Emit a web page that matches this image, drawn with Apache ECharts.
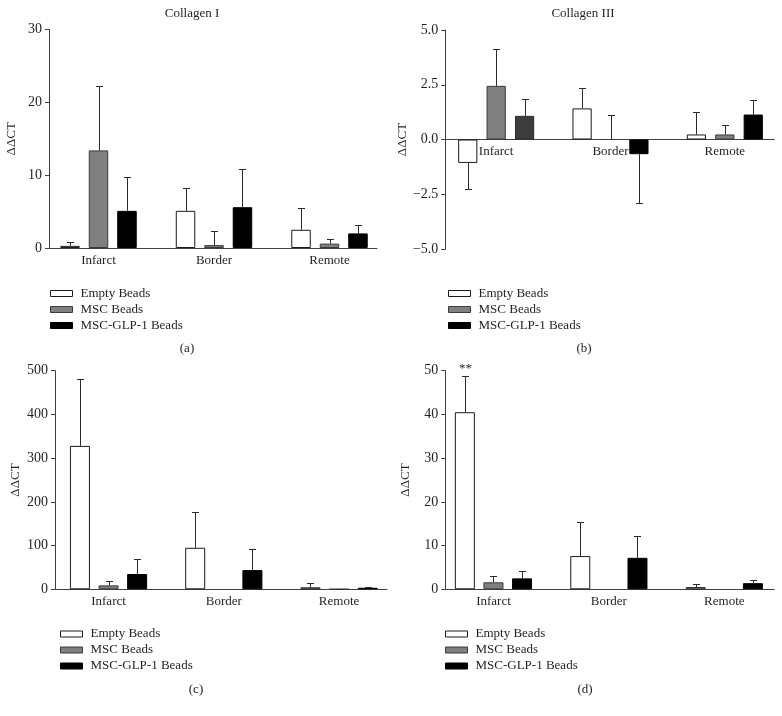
<!DOCTYPE html>
<html>
<head>
<meta charset="utf-8">
<script src="https://cdn.jsdelivr.net/npm/echarts@6/dist/echarts.min.js"></script>
<style>
html,body{margin:0;padding:0;background:#fff;}
#chart{width:782px;height:716px;}
</style>
</head>
<body>
<div id="chart"></div>
<script>
// ---------------- DATA ----------------
const categories = ['Infarct', 'Border', 'Remote'];
const seriesNames = ['Empty Beads', 'MSC Beads', 'MSC-GLP-1 Beads'];

// (a) Collagen I
const emptyA = [0.3, 5.1, 2.5];
const emptyAErr = [0.8, 8.2, 5.5];
const mscA = [13.4, 0.4, 0.6];
const mscAErr = [22.2, 2.3, 1.2];
const glpA = [5.1, 5.6, 2.0];
const glpAErr = [9.7, 10.8, 3.2];

// (b) Collagen III
const emptyB = [-1.07, 1.42, 0.23];
const emptyBErr = [-2.27, 2.36, 1.26];
const mscB = [2.45, 0, 0.23];
const mscBErr = [4.12, 1.12, 0.64];
const glpB = [1.08, -0.67, 1.14];
const glpBErr = [1.83, -2.89, 1.79];

// (c)
const emptyC = [328, 95, 4.6];
const emptyCErr = [482, 176, 15];
const mscC = [9, null, 0.5];
const mscCErr = [19, null, 1.5];
const glpC = [35, 44, 3.5];
const glpCErr = [70, 93, 5];

// (d)
const emptyD = [40.5, 7.6, 0.5];
const emptyDErr = [48.9, 15.5, 1.1];
const mscD = [1.6, null, null];
const mscDErr = [3.1, null, null];
const glpD = [2.5, 7.2, 1.4];
const glpDErr = [4.1, 12.3, 2.1];
const notesD = ['**', '', ''];

// y-axis tick settings
const yTicksA = {min: 0, max: 30, interval: 10};
const yTicksB = {min: -5, max: 5, interval: 2.5};
const yTicksC = {min: 0, max: 500, interval: 100};
const yTicksD = {min: 0, max: 50, interval: 10};

const titleA = 'Collagen I';
const titleB = 'Collagen III';
const yName = 'ΔΔCT';

// ---------------- STYLE / LAYOUT ----------------
const FONT = 'Liberation Serif';
const TXT = '#231f20';
const AXIS = '#404040';
const ERR = '#2a2a2a';
const seriesStyles = [
  {color: '#ffffff', borderColor: '#1a1a1a', borderWidth: 1},
  {color: '#808080', borderColor: '#3a3a3a', borderWidth: 1},
  {color: '#000000', borderColor: '#000000', borderWidth: 1}
];
const overrides = [{panel: 1, series: 2, index: 0, color: '#3d3d3d', borderColor: '#2a2a2a'}];

const panels = [
  {values: [emptyA, mscA, glpA], errs: [emptyAErr, mscAErr, glpAErr], notes: [null, null, null], ticks: yTicksA,
   fmt: v => String(v),
   frame: {left: 49, top: 29.5, width: 328, height: 218.5},
   bars: {left: 40.75, width: 346.5}, barWidth: 19.5, barGap: 0.46, nameGap: 31,
   legend: {left: 50, top: 287}, tag: {text: '(a)', x: 187, y: 349}},
  {values: [emptyB, mscB, glpB], errs: [emptyBErr, mscBErr, glpBErr], notes: [null, null, null], ticks: yTicksB,
   fmt: v => v.toFixed(1).replace('-', '\u2212'),
   frame: {left: 445.3, top: 30, width: 329, height: 219},
   bars: {left: 439, width: 343.8}, barWidth: 19.2, barGap: 0.48, nameGap: 33,
   legend: {left: 448, top: 287}, tag: {text: '(b)', x: 584, y: 349}},
  {values: [emptyC, mscC, glpC], errs: [emptyCErr, mscCErr, glpCErr], notes: [null, null, null], ticks: yTicksC,
   fmt: v => String(v),
   frame: {left: 55, top: 370.7, width: 332, height: 218.6},
   bars: {left: 50.9, width: 345.8}, barWidth: 20, barGap: 0.43, nameGap: 33,
   legend: {left: 60, top: 627.5}, tag: {text: '(c)', x: 196, y: 690}},
  {values: [emptyD, mscD, glpD], errs: [emptyDErr, mscDErr, glpDErr], notes: [notesD, null, null], ticks: yTicksD,
   fmt: v => String(v),
   frame: {left: 445.3, top: 370.7, width: 329, height: 218.6},
   bars: {left: 435.75, width: 347}, barWidth: 20, barGap: 0.43, nameGap: 33,
   legend: {left: 445, top: 627.5}, tag: {text: '(d)', x: 585, y: 690}}
];
const panelTitles = [
  {text: titleA, x: 192, y: 14},
  {text: titleB, x: 583, y: 14}
];

// ---------------- BUILD ----------------
const grid = [], xAxis = [], yAxis = [], series = [], legend = [], graphic = [];

panels.forEach((p, pi) => {
  const fi = pi * 2, bi = pi * 2 + 1;
  grid.push({left: p.frame.left, top: p.frame.top, width: p.frame.width, height: p.frame.height, containLabel: false});
  grid.push({left: p.bars.left, top: p.frame.top, width: p.bars.width, height: p.frame.height, containLabel: false});

  // frame axes (visible lines and y labels)
  xAxis.push({gridIndex: fi, type: 'category', data: [''], axisLine: {show: true, onZero: true, lineStyle: {color: AXIS, width: 1}},
    axisTick: {show: false}, axisLabel: {show: false}, splitLine: {show: false}});
  yAxis.push({gridIndex: fi, type: 'value', min: p.ticks.min, max: p.ticks.max, interval: p.ticks.interval,
    axisLine: {show: true, lineStyle: {color: AXIS, width: 1}},
    axisTick: {show: true, length: 4, inside: false, lineStyle: {color: AXIS}},
    axisLabel: {show: true, margin: 7, fontFamily: FONT, fontSize: 14, color: TXT, formatter: p.fmt},
    splitLine: {show: false},
    name: yName, nameLocation: 'middle', nameGap: p.nameGap, nameRotate: 90,
    nameTextStyle: {fontFamily: FONT, fontSize: 13, color: TXT}});

  // bar axes: category labels sit just under the zero line
  const zeroFrac = (0 - p.ticks.min) / (p.ticks.max - p.ticks.min);
  xAxis.push({gridIndex: bi, type: 'category', data: categories, boundaryGap: true, position: 'bottom',
    offset: -p.frame.height * zeroFrac,
    axisLine: {show: false, onZero: false}, axisTick: {show: false},
    axisLabel: {show: true, margin: 6, fontFamily: FONT, fontSize: 13, color: TXT, interval: 0},
    splitLine: {show: false}, z: 0});
  yAxis.push({gridIndex: bi, type: 'value', min: p.ticks.min, max: p.ticks.max, interval: p.ticks.interval,
    axisLine: {show: false}, axisTick: {show: false}, axisLabel: {show: false}, splitLine: {show: false}});

  const pitch = p.barWidth * (1 + p.barGap);
  p.values.forEach((vals, si) => {
    const data = vals.map((v, i) => {
      const ov = overrides.find(o => o.panel === pi && o.series === si && o.index === i);
      if (ov) return {value: v, itemStyle: {color: ov.color, borderColor: ov.borderColor}};
      return v;
    });
    series.push({type: 'bar', name: seriesNames[si], xAxisIndex: bi, yAxisIndex: bi, data: data,
      barWidth: p.barWidth, barGap: (p.barGap * 100) + '%', itemStyle: Object.assign({}, seriesStyles[si]),
      emphasis: {disabled: true}, z: 2});
    const offset = (si - 1) * pitch;
    const errs = p.errs[si];
    const notes = p.notes[si];
    series.push({type: 'custom', xAxisIndex: bi, yAxisIndex: bi, z: 3, silent: true,
      data: vals.map((v, i) => [i, v, errs[i]]),
      renderItem: function (params, api) {
        const v = api.value(1), e = api.value(2);
        if (isNaN(v) || isNaN(e)) return;
        const c = api.value(0);
        const p0 = api.coord([c, v]);
        const p1 = api.coord([c, e]);
        const cx = Math.round(p0[0] + offset) + 0.5;
        const y1 = Math.round(p1[1]) + 0.5;
        const children = [
          {type: 'line', shape: {x1: cx, y1: p0[1], x2: cx, y2: y1}, style: {stroke: ERR, lineWidth: 1}},
          {type: 'line', shape: {x1: cx - 3.5, y1: y1, x2: cx + 3.5, y2: y1}, style: {stroke: ERR, lineWidth: 1}}
        ];
        const note = notes ? notes[params.dataIndex] : '';
        if (note) {
          children.push({type: 'text', x: cx, y: y1 - 1, style: {text: note, fontFamily: FONT, fontSize: 13,
            fill: TXT, align: 'center', verticalAlign: 'bottom'}});
        }
        return {type: 'group', children: children};
      }});
  });

  legend.push({orient: 'vertical', left: p.legend.left, top: p.legend.top, padding: 0,
    itemWidth: 22, itemHeight: 6, itemGap: 3, icon: 'rect', selectedMode: false,
    textStyle: {fontFamily: FONT, fontSize: 13, color: TXT, padding: [0, 0, 0, 3]},
    data: seriesNames.map((n, si) => ({name: n, itemStyle: Object.assign({}, seriesStyles[si])}))});

  graphic.push({type: 'text', x: p.tag.x, y: p.tag.y, style: {text: p.tag.text, fontFamily: FONT, fontSize: 13,
    fill: TXT, align: 'center', verticalAlign: 'middle'}});
});

panelTitles.forEach(t => {
  graphic.push({type: 'text', x: t.x, y: t.y, style: {text: t.text, fontFamily: FONT, fontSize: 13,
    fill: TXT, align: 'center', verticalAlign: 'middle'}});
});

const chart = echarts.init(document.getElementById('chart'), null, {renderer: 'canvas'});
chart.setOption({
  backgroundColor: '#ffffff',
  animation: false,
  textStyle: {fontFamily: FONT},
  grid: grid, xAxis: xAxis, yAxis: yAxis, series: series, legend: legend, graphic: graphic
});
</script>
</body>
</html>
